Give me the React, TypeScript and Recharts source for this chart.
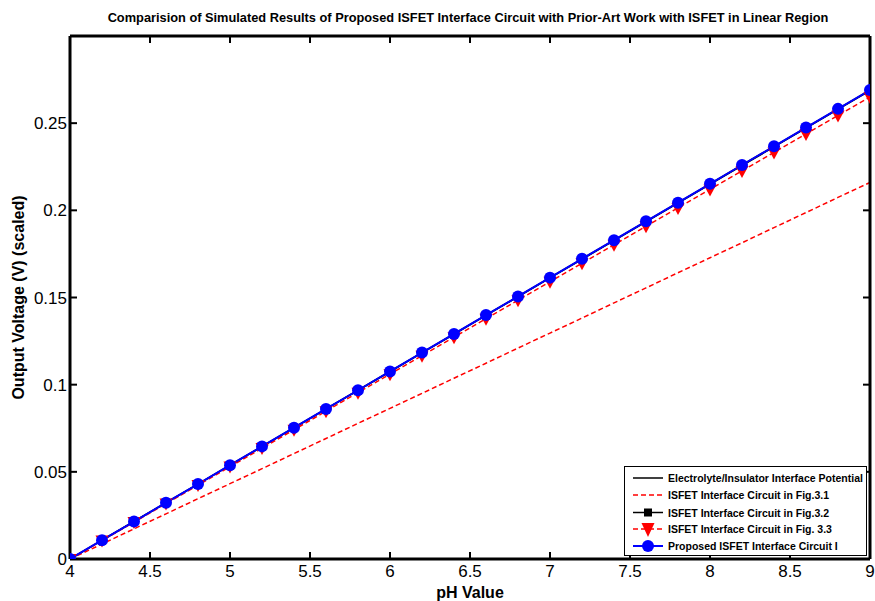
import React from 'react';
import { LineChart, Line, XAxis, YAxis, ReferenceLine } from 'recharts';

const FONT = '"Liberation Sans", Arial, Helvetica, sans-serif';

const phValues = [4, 4.2, 4.4, 4.6, 4.8, 5, 5.2, 5.4, 5.6, 5.8, 6, 6.2, 6.4, 6.6, 6.8, 7, 7.2, 7.4, 7.6, 7.8, 8, 8.2, 8.4, 8.6, 8.8, 9];

const electrolyte = [0, 0.0107, 0.0215, 0.0322, 0.043, 0.0537, 0.0645, 0.0752, 0.086, 0.0967, 0.1074, 0.1182, 0.1289, 0.1397, 0.1504, 0.1612, 0.1719, 0.1826, 0.1934, 0.2041, 0.2149, 0.2256, 0.2364, 0.2471, 0.2579, 0.2686];
const fig31 = [0, 0.0086, 0.0173, 0.0259, 0.0346, 0.0432, 0.0518, 0.0605, 0.0691, 0.0778, 0.0864, 0.095, 0.1037, 0.1123, 0.121, 0.1296, 0.1382, 0.1469, 0.1555, 0.1642, 0.1728, 0.1814, 0.1901, 0.1987, 0.2074, 0.216];
const fig32 = [0, 0.0108, 0.0215, 0.0323, 0.043, 0.0538, 0.0646, 0.0753, 0.0861, 0.0968, 0.1076, 0.1184, 0.1291, 0.1399, 0.1506, 0.1614, 0.1722, 0.1829, 0.1937, 0.2044, 0.2152, 0.226, 0.2367, 0.2475, 0.2582, 0.269];
const fig33 = [0, 0.0106, 0.0212, 0.0318, 0.0424, 0.053, 0.0636, 0.0742, 0.0848, 0.0954, 0.106, 0.1166, 0.1272, 0.1378, 0.1484, 0.159, 0.1696, 0.1802, 0.1908, 0.2014, 0.212, 0.2226, 0.2332, 0.2438, 0.2544, 0.265];
const proposed = [0, 0.0108, 0.0215, 0.0323, 0.043, 0.0538, 0.0646, 0.0753, 0.0861, 0.0968, 0.1076, 0.1184, 0.1291, 0.1399, 0.1506, 0.1614, 0.1722, 0.1829, 0.1937, 0.2044, 0.2152, 0.226, 0.2367, 0.2475, 0.2582, 0.269];

const xTicks = [4, 4.5, 5, 5.5, 6, 6.5, 7, 7.5, 8, 8.5, 9];
const yTicks = [0, 0.05, 0.1, 0.15, 0.2, 0.25];
const xDomain = [4, 9];
const yDomain = [0, 0.3];

const seriesNames = [
  'Electrolyte/Insulator Interface Potential',
  'ISFET Interface Circuit in Fig.3.1',
  'ISFET Interface Circuit in Fig.3.2',
  'ISFET Interface Circuit in Fig. 3.3',
  'Proposed ISFET Interface Circuit I',
];

const title = 'Comparision of Simulated Results of Proposed ISFET Interface Circuit with Prior-Art Work with ISFET in Linear Region';

const data = phValues.map((ph, i) => ({
  ph,
  electrolyte: electrolyte[i],
  fig31: fig31[i],
  fig32: fig32[i],
  fig33: fig33[i],
  proposed: proposed[i],
}));

const WIDTH = 875;
const HEIGHT = 601;
const MARGIN = { top: 35, right: 4, bottom: 0, left: 0 };
const TOP_AXIS_H = 1;
const RIGHT_AXIS_W = 1;
const X_AXIS_H = 42;
const Y_AXIS_W = 70;
const PLOT_W = WIDTH - MARGIN.left - MARGIN.right - Y_AXIS_W - RIGHT_AXIS_W;
const PLOT_H = HEIGHT - MARGIN.top - MARGIN.bottom - X_AXIS_H - TOP_AXIS_H;
const TICK_LEN = 7;
// tick length expressed in data units so the stubs go through the chart scales
const tickDy = ((yDomain[1] - yDomain[0]) * TICK_LEN) / PLOT_H;
const tickDx = ((xDomain[1] - xDomain[0]) * TICK_LEN) / PLOT_W;

const SquareDot = (props: any) => {
  const { cx, cy } = props;
  if (cx == null || cy == null) return null;
  return <rect x={cx - 4} y={cy - 4} width={8} height={8} fill="#000" />;
};

const TriangleDot = (props: any) => {
  const { cx, cy } = props;
  if (cx == null || cy == null) return null;
  return <polygon points={`${cx - 6.5},${cy - 5} ${cx + 6.5},${cy - 5} ${cx},${cy + 7}`} fill="#ff0000" />;
};

const CircleDot = (props: any) => {
  const { cx, cy } = props;
  if (cx == null || cy == null) return null;
  return <circle cx={cx} cy={cy} r={6} fill="#0000ff" />;
};

const YLabel = (props: any) => {
  const vb = props.viewBox || {};
  const x = 18.5;
  const y = vb.y + vb.height / 2;
  return (
    <text x={x} y={y} transform={`rotate(-90, ${x}, ${y})`} textAnchor="middle" dominantBaseline="central"
      fontFamily={FONT} fontWeight="bold" fontSize={16} fill="#000">
      Output Voltage (V) (scaled)
    </text>
  );
};

const TitleLabel = (props: any) => {
  const vb = props.viewBox || {};
  return (
    <text x={vb.x + vb.width / 2 - 2} y={22} textAnchor="middle" fontFamily={FONT} fontWeight="bold" fontSize={12.8} fill="#000">
      {title}
    </text>
  );
};

function LegendBox() {
  const rowY = [11, 28, 45.5, 62, 79];
  return (
    <div style={{ position: 'absolute', left: 624, top: 466, width: 241, height: 88, border: '1px solid #000', background: '#fff' }}>
      <svg width={241} height={88} style={{ display: 'block' }}>
        {seriesNames.map((name, i) => {
          const y = rowY[i];
          const red = i === 1 || i === 3;
          const color = red ? '#ff0000' : i === 4 ? '#0000ff' : '#000';
          return (
            <g key={name}>
              <line x1={8} x2={38} y1={y} y2={y} stroke={color} strokeWidth={i === 4 ? 2 : 1.5} strokeDasharray={red ? '5 3' : undefined} />
              {i === 2 && <SquareDot cx={23} cy={y} />}
              {i === 3 && <polygon points={`${23 - 6.5},${y - 6} ${23 + 6.5},${y - 6} ${23},${y + 8}`} fill="#ff0000" />}
              {i === 4 && <CircleDot cx={23} cy={y} />}
              <text x={43} y={y} dominantBaseline="central" fontFamily={FONT} fontWeight="bold" fontSize={10.5} fill="#000">
                {name}
              </text>
            </g>
          );
        })}
      </svg>
    </div>
  );
}

export default function App() {
  const axisLine = { stroke: '#000', strokeWidth: 3 };
  const tickStyle = { fill: '#000', fontSize: 17, fontFamily: FONT };
  const innerX = xTicks.slice(1, -1);
  const innerY = yTicks.slice(1);
  return (
    <div style={{ position: 'relative', width: WIDTH, height: HEIGHT, background: '#fff' }}>
      <style>{'body{margin:0;background:#fff}'}</style>
      <LineChart width={WIDTH} height={HEIGHT} data={data} margin={MARGIN}>
        <XAxis xAxisId="bottom" dataKey="ph" type="number" domain={xDomain} ticks={xTicks} interval={0}
          allowDataOverflow height={X_AXIS_H} tickSize={0} tickMargin={6}
          axisLine={axisLine} tickLine={false} tick={tickStyle}
          label={{ value: 'pH Value', position: 'insideBottom', offset: 3, fill: '#000', fontSize: 16, fontWeight: 'bold', fontFamily: FONT }} />
        <XAxis xAxisId="top" orientation="top" dataKey="ph" type="number" domain={xDomain} ticks={xTicks} interval={0}
          allowDataOverflow height={TOP_AXIS_H} tickSize={0} axisLine={axisLine} tickLine={false} tick={false}
          label={<TitleLabel />} />
        <YAxis yAxisId="left" type="number" domain={yDomain} ticks={yTicks} interval={0} allowDataOverflow
          width={Y_AXIS_W} tickSize={0} tickMargin={3} axisLine={axisLine} tickLine={false} tick={tickStyle}
          label={<YLabel />} />
        <YAxis yAxisId="right" orientation="right" type="number" domain={yDomain} ticks={yTicks} interval={0}
          allowDataOverflow width={RIGHT_AXIS_W} tickSize={0} axisLine={axisLine} tickLine={false} tick={false} />

        {/* inward tick stubs on all four sides of the box */}
        {innerX.map((v) => (
          <ReferenceLine key={`b${v}`} xAxisId="bottom" yAxisId="left" stroke="#000" strokeWidth={2} ifOverflow="visible"
            segment={[{ x: v, y: yDomain[0] }, { x: v, y: yDomain[0] + tickDy }]} />
        ))}
        {innerX.map((v) => (
          <ReferenceLine key={`t${v}`} xAxisId="bottom" yAxisId="left" stroke="#000" strokeWidth={2} ifOverflow="visible"
            segment={[{ x: v, y: yDomain[1] }, { x: v, y: yDomain[1] - tickDy }]} />
        ))}
        {innerY.map((v) => (
          <ReferenceLine key={`l${v}`} xAxisId="bottom" yAxisId="left" stroke="#000" strokeWidth={2} ifOverflow="visible"
            segment={[{ x: xDomain[0], y: v }, { x: xDomain[0] + tickDx, y: v }]} />
        ))}
        {innerY.map((v) => (
          <ReferenceLine key={`r${v}`} xAxisId="bottom" yAxisId="left" stroke="#000" strokeWidth={2} ifOverflow="visible"
            segment={[{ x: xDomain[1], y: v }, { x: xDomain[1] - tickDx, y: v }]} />
        ))}

        <Line xAxisId="bottom" yAxisId="left" dataKey="electrolyte" name={seriesNames[0]} stroke="#000" strokeWidth={1.5}
          dot={false} isAnimationActive={false} />
        <Line xAxisId="bottom" yAxisId="left" dataKey="fig31" name={seriesNames[1]} stroke="#ff0000" strokeWidth={1.5}
          strokeDasharray="5 3" dot={false} isAnimationActive={false} />
        <Line xAxisId="bottom" yAxisId="left" dataKey="fig32" name={seriesNames[2]} stroke="#000" strokeWidth={1.5}
          dot={<SquareDot />} isAnimationActive={false} />
        <Line xAxisId="bottom" yAxisId="left" dataKey="fig33" name={seriesNames[3]} stroke="#ff0000" strokeWidth={1.5}
          strokeDasharray="5 3" dot={<TriangleDot />} isAnimationActive={false} />
        <Line xAxisId="bottom" yAxisId="left" dataKey="proposed" name={seriesNames[4]} stroke="#0000ff" strokeWidth={2}
          dot={<CircleDot />} isAnimationActive={false} />
      </LineChart>
      <LegendBox />
    </div>
  );
}
